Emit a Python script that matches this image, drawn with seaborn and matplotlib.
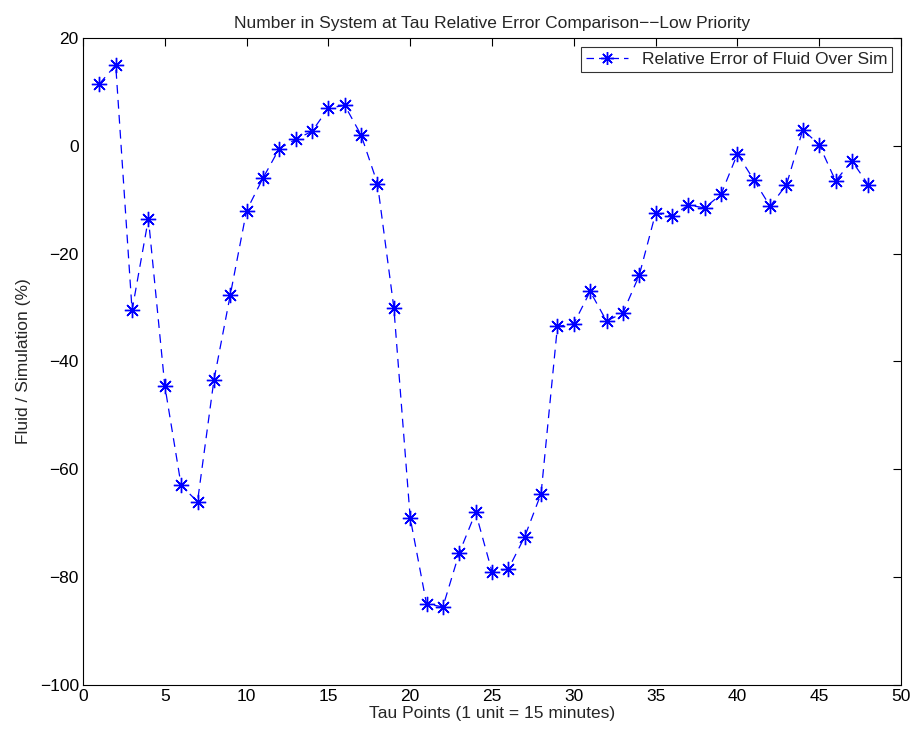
import matplotlib
matplotlib.use("Agg")
import matplotlib.pyplot as plt
import seaborn as sns
import pandas as pd

tau_points = list(range(1, 49))
rel_error = [11.5, 15.0, -30.5, -13.5, -44.5, -63.0, -66.0, -43.5, -27.7, -12.0,
             -6.0, -0.5, 1.2, 2.7, 7.0, 7.5, 2.0, -7.0, -30.0, -69.0,
             -85.0, -85.5, -75.5, -68.0, -79.0, -78.5, -72.5, -64.5, -33.5, -33.0,
             -27.0, -32.5, -31.0, -24.0, -12.5, -13.0, -11.0, -11.5, -9.0, -1.5,
             -6.3, -11.2, -7.2, 3.0, 0.2, -6.5, -2.8, -7.2]
series_label = "Relative Error of Fluid Over Sim"
x_ticks = [0, 5, 10, 15, 20, 25, 30, 35, 40, 45, 50]
y_ticks = [-100, -80, -60, -40, -20, 0, 20]

sns.set_theme(style="white")
plt.rcParams['font.family'] = ['Liberation Sans', 'DejaVu Sans']
plt.rcParams['axes.unicode_minus'] = True

df = pd.DataFrame({"tau": tau_points, "err": rel_error})

fig = plt.figure(figsize=(9.15, 7.37), dpi=100)
ax = fig.add_axes([0.0907, 0.0706, 0.894, 0.8778])

asterisk = (8, 2, 0)
sns.lineplot(data=df, x="tau", y="err", ax=ax, color=(0, 0, 1),
             linewidth=0.9, marker=asterisk, markersize=11, markeredgewidth=1.0,
             markeredgecolor=(0, 0, 1), label=series_label)
ax.lines[0].set_linestyle((0, (7, 5)))

ax.set_xlim(0, 50)
ax.set_ylim(-100, 20)
ax.set_xticks(x_ticks)
ax.set_yticks(y_ticks)
ax.tick_params(direction="in", length=6, width=0.8, top=True, right=True,
               labelsize=12.5, colors="black", pad=3)
for s in ax.spines.values():
    s.set_color("black")
    s.set_linewidth(0.8)

ax.set_xlabel("Tau Points (1 unit = 15 minutes)", fontsize=12.5, labelpad=1)
ax.set_ylabel("Fluid / Simulation (%)", fontsize=12.5, labelpad=6)
ax.set_title("Number in System at Tau Relative Error Comparison\u2212\u2212Low Priority", fontsize=12.5, pad=7)

leg = ax.legend(loc="upper right", fontsize=12.5, frameon=True, fancybox=False,
                borderaxespad=0.5, handlelength=2.4, borderpad=0.3, handletextpad=0.8,
                markerscale=0.85)
leg.get_frame().set_edgecolor("black")
leg.get_frame().set_linewidth(0.8)
for h in leg.get_lines():
    h.set_linestyle((0, (6, 4)))

fig.savefig("out.png", dpi=100, facecolor="white")
